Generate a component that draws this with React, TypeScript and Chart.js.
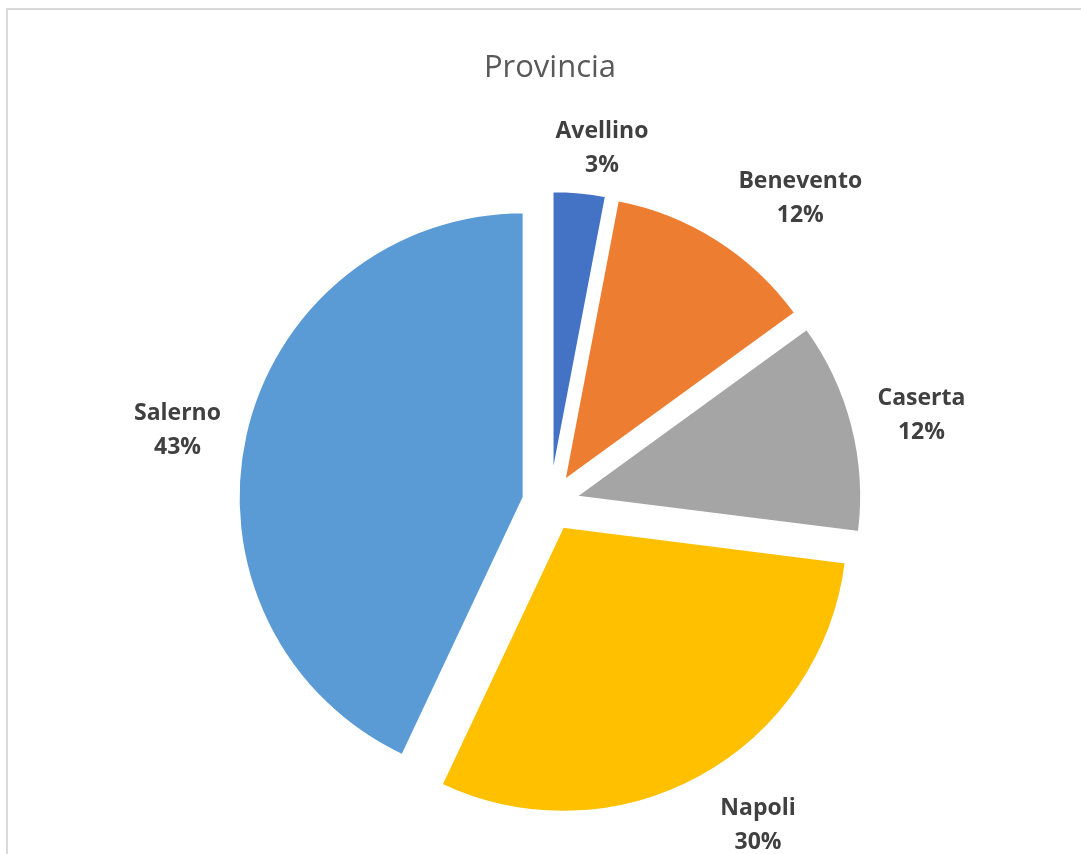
import React, { useEffect, useRef } from "react";
import { Chart, registerables } from "chart.js";

Chart.register(...registerables);

// ---- data ----
const categories = ["Avellino", "Benevento", "Caserta", "Napoli", "Salerno"];
const values = [3, 12, 12, 30, 43];
const colors = ["#4472C4", "#ED7D31", "#A5A5A5", "#FFC000", "#5B9BD5"];
const titleText = "Provincia";

// ---- styling / placement ----
const EXPLODE = 27; // px each slice is pulled out along its mid angle
const LABEL_ANGLE_SHIFT = [2.9, 6.8, 0.9, -4.2, -1.2]; // degrees from slice mid angle
const LABEL_DIST = [360, 396, 382, 382, 380]; // px from pie centre
const LABEL_FONT = "bold 23px 'Open Sans'";
const LABEL_LINE_GAP = 34;
const LABEL_BASE_SHIFT = 2;

const explodePlugin = {
  id: "explodeSlices",
  beforeDatasetDraw(chart: any, args: any) {
    const meta = chart.getDatasetMeta(args.index);
    const ctx = chart.ctx;
    meta.data.forEach((arc: any) => {
      const mid = (arc.startAngle + arc.endAngle) / 2;
      ctx.save();
      ctx.translate(Math.cos(mid) * EXPLODE, Math.sin(mid) * EXPLODE);
      arc.draw(ctx, chart.chartArea);
      ctx.restore();
    });
    return false;
  },
};

const labelPlugin = {
  id: "sliceLabels",
  afterDatasetsDraw(chart: any) {
    const meta = chart.getDatasetMeta(0);
    const ctx = chart.ctx;
    const data = chart.data.datasets[0].data as number[];
    const total = data.reduce((a, b) => a + b, 0);
    ctx.save();
    ctx.font = LABEL_FONT;
    ctx.fillStyle = "#404040";
    ctx.textAlign = "center";
    ctx.textBaseline = "middle";
    meta.data.forEach((arc: any, i: number) => {
      const ang = (arc.startAngle + arc.endAngle) / 2 + (LABEL_ANGLE_SHIFT[i] * Math.PI) / 180;
      const x = arc.x + Math.cos(ang) * LABEL_DIST[i];
      const y = arc.y + Math.sin(ang) * LABEL_DIST[i] + LABEL_BASE_SHIFT;
      ctx.fillText(String(chart.data.labels[i]), x, y - LABEL_LINE_GAP / 2);
      ctx.fillText(Math.round((data[i] / total) * 100) + "%", x, y + LABEL_LINE_GAP / 2);
    });
    ctx.restore();
  },
};

export default function App() {
  const ref = useRef<HTMLCanvasElement | null>(null);

  useEffect(() => {
    if (!ref.current) return;
    const chart = new Chart(ref.current, {
      type: "pie",
      data: {
        labels: categories,
        datasets: [
          {
            data: values,
            backgroundColor: colors,
            borderColor: "#ffffff",
            borderWidth: 2,
            radius: 285,
          } as any,
        ],
      },
      options: {
        responsive: false,
        animation: false,
        events: [],
        layout: { padding: { left: 19, right: 0, top: 50, bottom: 0 } },
        plugins: {
          legend: { display: false },
          tooltip: { enabled: false },
          title: {
            display: true,
            text: titleText,
            color: "#595959",
            font: { family: "'Open Sans'", size: 31, weight: "normal" as any },
            padding: { top: 0, bottom: 65 },
          },
        },
      },
      plugins: [explodePlugin, labelPlugin],
    });
    return () => chart.destroy();
  }, []);

  return (
    <div
      style={{
        position: "fixed",
        left: 0,
        top: 0,
        width: 1081,
        height: 854,
        overflow: "hidden",
        background: "#ffffff",
      }}
    >
      <div
        style={{
          position: "absolute",
          left: 6,
          top: 8,
          width: 1300,
          height: 1100,
          border: "2px solid #d9d9d9",
          boxSizing: "border-box",
        }}
      />
      <canvas
        ref={ref}
        width={1081}
        height={854}
        style={{ position: "absolute", left: 0, top: 0 }}
      />
    </div>
  );
}
